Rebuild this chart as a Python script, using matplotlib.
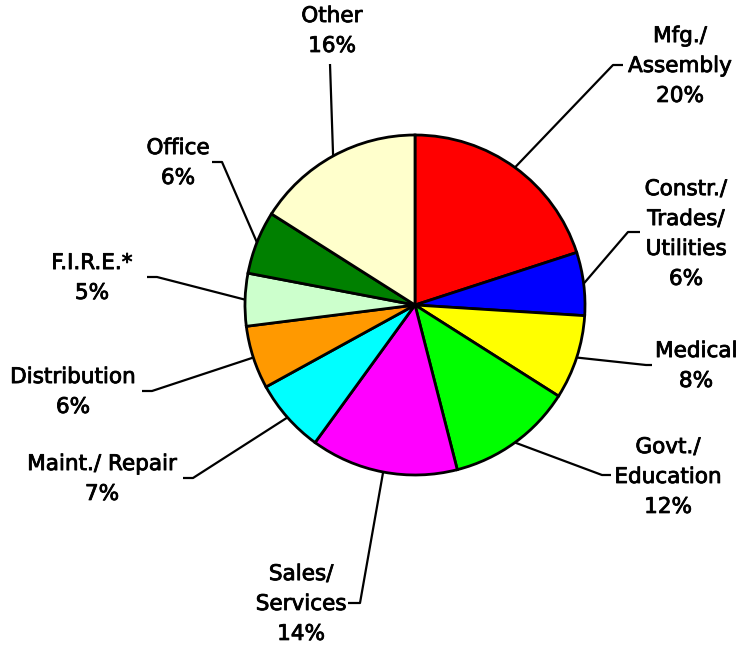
import numpy as np
import matplotlib
matplotlib.use("Agg")
import matplotlib.pyplot as plt
import matplotlib.patheffects as pe

# slices, clockwise from 12 o'clock
labels = ["Mfg./\nAssembly", "Constr./\nTrades/\nUtilities", "Medical", "Govt./\nEducation",
          "Sales/\nServices", "Maint./ Repair", "Distribution", "F.I.R.E.*", "Office", "Other"]
shares = [20, 6, 8, 12, 14, 7, 6, 5, 6, 16]
colors = ["#FF0000", "#0000FF", "#FFFF00", "#00FF00", "#FF00FF",
          "#00FFFF", "#FF9900", "#CCFFCC", "#008000", "#FFFFCC"]

# label layout in pixels (image coords): text centre, elbow, tail end
text_xy = [(680, 66), (686, 234), (696, 366), (668, 477), (301, 604),
           (102, 479), (73, 392), (92, 278), (178, 163), (332, 31)]
elbow_xy = [(613, 65), (628, 232), (646, 365), (602, 475), (360, 603),
            (193, 478), (152, 391), (157, 277), (222, 162), (330, 64)]
tail_xy = [(623, 65), (640, 232), (652, 365), (611, 475), (348, 603),
           (183, 478), (142, 391), (147, 277), (212, 162), (330, 64)]

W, H = 740, 645
cx, cy, R = 415, 305, 170


def to_data(p):
    return ((p[0] - cx) / R, (cy - p[1]) / R)


fig = plt.figure(figsize=(W / 100, H / 100), dpi=100)
ax = fig.add_axes([0, 0, 1, 1])

wedges, _ = ax.pie(shares, colors=colors, startangle=90, counterclock=False,
                   radius=1, center=(0, 0),
                   wedgeprops=dict(edgecolor="black", linewidth=2))

ax.set_xlim(-cx / R, (W - cx) / R)
ax.set_ylim(-(H - cy) / R, cy / R)
ax.set_aspect("equal")
ax.axis("off")

for w, lab, s, t, e, tl in zip(wedges, labels, shares, text_xy, elbow_xy, tail_xy):
    ang = np.deg2rad((w.theta1 + w.theta2) / 2)
    x0, y0 = np.cos(ang), np.sin(ang)
    ex, ey = to_data(e)
    tx, ty = to_data(tl)
    ax.plot([x0, ex, tx], [y0, ey, ty], color="black", lw=1.6, solid_capstyle="butt")
    px, py = to_data(t)
    ax.text(px, py, f"{lab}\n{s}%", ha="center", va="center", multialignment="center",
            fontsize=15.5, family="DejaVu Sans", linespacing=1.62,
            path_effects=[pe.withStroke(linewidth=0.6, foreground="black")])

fig.savefig("out.png", dpi=100)
